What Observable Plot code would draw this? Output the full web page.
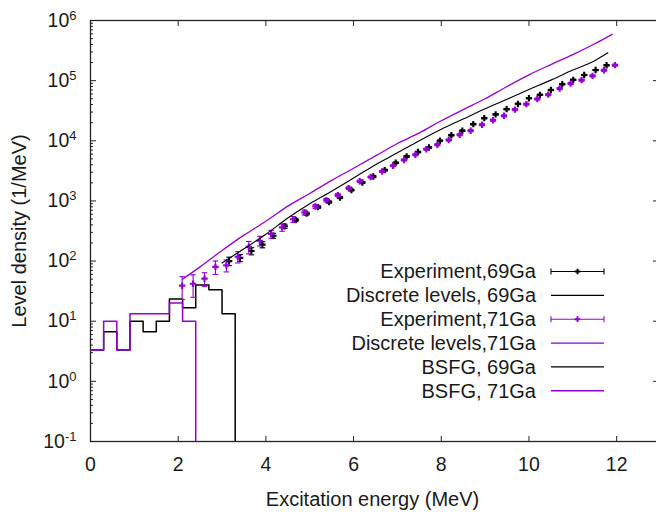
<!DOCTYPE html>
<html>
<head>
<meta charset="utf-8">
<script src="https://cdn.jsdelivr.net/npm/d3@7"></script>
<script src="https://cdn.jsdelivr.net/npm/@observablehq/plot@0.6"></script>
<style>
  html, body { margin: 0; padding: 0; background: white; }
  #chart { width: 656px; height: 514px; overflow: hidden; }
</style>
</head>
<body>
<div id="chart"></div>
<script>
// ---------- data ----------
// Experiment, 69Ga
const E69   = [3.16,3.41,3.67,3.92,4.17,4.43,4.68,4.93,5.19,5.44,5.69,5.95,6.20,6.45,6.71,6.96,7.21,7.47,7.72,7.97,8.23,8.48,8.73,8.98,9.24,9.49,9.75,10.00,10.25,10.50,10.76,11.01,11.26,11.52,11.77];
const rho69 = [100,113,147,188,264,380,482,615,790,960,1143,1520,2030,2540,3250,4300,5500,6500,7740,10000,12400,14700,18900,23800,27500,33600,41000,51000,58000,70000,87500,103000,124000,150000,180000];
const err69 = [16,15,20,22,25,30,30,35,40,45,50,60,80,100,120,150,180,220,250,300,350,420,500,600,700,850,1000,1200,1400,1700,2100,2500,3000,3600,4300];
// Experiment, 71Ga
const E71   = [2.09,2.34,2.60,2.85,3.10,3.36,3.61,3.86,4.12,4.37,4.62,4.88,5.13,5.38,5.64,5.89,6.14,6.39,6.65,6.90,7.15,7.41,7.66,7.91,8.17,8.42,8.67,8.93,9.18,9.43,9.68,9.94,10.19,10.44,10.70,10.95,11.20,11.45,11.71,11.96];
const rho71 = [39,42,51,80,85,118,172,218,282,363,495,645,810,1030,1250,1630,2120,2500,3090,3850,4800,5850,7250,8600,10300,12600,14700,18500,22000,26000,33000,40700,49500,58500,74000,89500,102000,120000,149000,181000];
const err71 = [16,17,13,20,19,25,40,40,42,50,55,60,60,70,70,80,90,100,120,150,190,230,290,340,410,500,590,740,880,1040,1320,1630,1980,2340,2960,3580,4080,4800,5960,7240];
// Discrete levels (histograms, 0.3 MeV bins)
const discEdges69 = [0,0.3,0.6,0.9,1.2,1.5,1.8,2.1,2.4,2.7,3.0,3.3];
const disc69      = [3.33,6.67,3.33,10,6.67,10,23.3,16.7,40,33.3,13.3];
const discEdges71 = [0,0.3,0.6,0.9,1.2,1.5,1.8,2.1,2.4];
const disc71      = [3.33,10,3.33,13.33,13.33,13.33,20,10];
// BSFG curves
const bsfgE69 = [3.0,3.5,4.0,4.5,5.0,5.5,6.0,6.5,7.0,7.5,8.0,8.5,9.0,9.5,10.0,10.5,11.0,11.5,11.8];
const bsfg69  = [93,160,280,520,900,1450,2400,4000,6300,10000,15500,23000,34000,49000,71000,102000,150000,215000,290000];
const bsfgE71 = [2.1,2.5,3.0,3.5,4.0,4.5,5.0,5.5,6.0,6.5,7.0,7.5,8.0,8.5,9.0,9.5,10.0,10.5,11.0,11.5,11.9];
const bsfg71  = [50,80,150,270,460,820,1330,2200,3500,5600,9000,13500,21500,33000,50000,80000,125000,185000,270000,410000,590000];
// axes / legend text
const xTicks = [0,2,4,6,8,10,12];
const yDecades = [0.1,1,10,100,1e3,1e4,1e5,1e6];
const xTitle = "Excitation energy (MeV)";
const yTitle = "Level density (1/MeV)";
const legendLabels = ["Experiment,69Ga","Discrete levels, 69Ga","Experiment,71Ga","Discrete levels,71Ga","BSFG, 69Ga","BSFG, 71Ga"];
const legendKinds  = ["err","line","err","line","line","line"];

// ---------- build ----------
const purple = "#9400d3";
const legendColors = ["#000", "#000", purple, purple, "#000", purple];
const exp69 = E69.map((E, i) => ({E, v: rho69[i], e: err69[i]}));
const exp71 = E71.map((E, i) => ({E, v: rho71[i], e: err71[i]}));
const FLOOR = 1e-3;
function steps(edges, vals) {
  const pts = vals.map((v, i) => ({E: edges[i], v}));
  pts.push({E: edges[edges.length - 1], v: FLOOR});
  return pts;
}
const st69 = steps(discEdges69, disc69);
const st71 = steps(discEdges71, disc71);
const b69 = bsfgE69.map((E, i) => ({E, v: bsfg69[i]}));
const b71 = bsfgE71.map((E, i) => ({E, v: bsfg71[i]}));
const yMinor = yDecades.slice(0, -1).flatMap(d => [2,3,4,5,6,7,8,9].map(k => k * d));
const capSymbol = {draw(ctx, size) { const r = Math.sqrt(size / Math.PI); ctx.moveTo(-r, 0); ctx.lineTo(r, 0); }};

function expMarks(data, color) {
  return [
    Plot.ruleX(data, {x: "E", y1: d => d.v - d.e, y2: d => d.v + d.e, stroke: color, strokeWidth: 1.1}),
    Plot.dot(data, {x: "E", y: d => d.v + d.e, symbol: capSymbol, r: 2.8, stroke: color, strokeWidth: 1.1, fill: "none"}),
    Plot.dot(data, {x: "E", y: d => d.v - d.e, symbol: capSymbol, r: 2.8, stroke: color, strokeWidth: 1.1, fill: "none"}),
    Plot.dot(data, {x: "E", y: "v", symbol: "cross", r: 2.7, fill: color, stroke: "none"})
  ];
}
const blank = () => "";

const chart = Plot.plot({
  width: 656, height: 514,
  marginLeft: 90, marginRight: -4, marginTop: 20, marginBottom: 73,
  x: {domain: [0, 13], label: null},
  y: {type: "log", domain: [0.1, 1e6], label: null},
  style: {fontFamily: "'Liberation Sans', Arial, sans-serif", fontSize: "19.5px", color: "#1a1a1a", background: "white"},
  marks: [
    Plot.frame({stroke: "#222", strokeWidth: 1.3}),
    Plot.axisX(xTicks, {anchor: "bottom", tickSize: 0, tickPadding: 16, label: null}),
    Plot.axisX(xTicks.slice(1), {anchor: "bottom", tickSize: -5, tickFormat: blank, label: null, stroke: "#222"}),
    Plot.axisX(xTicks.slice(1), {anchor: "top", tickSize: -5, tickFormat: blank, label: null, stroke: "#222"}),
    Plot.axisY(yDecades, {anchor: "left", tickSize: 0, tickPadding: 14, tickFormat: d => "10^" + Math.round(Math.log10(d)), label: null}),
    Plot.axisY(yDecades, {anchor: "left", tickSize: -6, tickFormat: blank, label: null, stroke: "#222"}),
    Plot.axisY(yMinor, {anchor: "left", tickSize: -3, tickFormat: blank, label: null, stroke: "#222"}),
    Plot.axisY(yDecades, {anchor: "right", tickSize: -8, tickFormat: blank, label: null, stroke: "#222"}),
    ...expMarks(exp69, "#000"),
    Plot.line(st69, {x: "E", y: "v", curve: "step-after", stroke: "#000", strokeWidth: 1.5, clip: true}),
    ...expMarks(exp71, purple),
    Plot.line(st71, {x: "E", y: "v", curve: "step-after", stroke: purple, strokeWidth: 1.5, clip: true}),
    Plot.line(b69, {x: "E", y: "v", curve: "monotone-x", stroke: "#000", strokeWidth: 1.1}),
    Plot.line(b71, {x: "E", y: "v", curve: "monotone-x", stroke: purple, strokeWidth: 1.3}),
    Plot.text([yTitle], {text: d => d, frameAnchor: "left", dx: -65, rotate: -90, lineAnchor: "bottom", textAnchor: "middle", fontSize: 20, fill: "#1a1a1a"}),
    Plot.text([xTitle], {text: d => d, frameAnchor: "bottom", dx: -3, dy: 64, lineAnchor: "bottom", textAnchor: "middle", fontSize: 20, fill: "#1a1a1a"})
  ]
});
document.getElementById("chart").appendChild(chart);

// superscript exponents on the y tick labels
const svg = d3.select(chart);
svg.selectAll('g[aria-label="y-axis tick label"] text').each(function() {
  const s = this.textContent;
  if (!s.includes("^")) return;
  const [base, exp] = s.split("^");
  const t = d3.select(this);
  t.text(null);
  t.append("tspan").text(base);
  t.append("tspan").attr("dy", "-7").attr("font-size", "13px").text(exp);
});

// legend
const lg = svg.append("g").attr("font-size", 20).attr("fill", "#1a1a1a")
  .attr("font-family", "'Liberation Sans', Arial, sans-serif");
const lx0 = 551, lx1 = 604, textX = 536, base0 = 278.3, rowH = 23.85;
legendLabels.forEach((lab, i) => {
  const yb = base0 + i * rowH, yc = yb - 6.8, c = legendColors[i];
  lg.append("text").attr("x", textX).attr("y", yb).attr("text-anchor", "end").text(lab);
  lg.append("line").attr("x1", lx0).attr("x2", lx1).attr("y1", yc).attr("y2", yc)
    .attr("stroke", c).attr("stroke-width", legendKinds[i] === "err" ? 1.1 : 1.3);
  if (legendKinds[i] === "err") {
    [lx0, lx1].forEach(x => lg.append("line").attr("x1", x).attr("x2", x).attr("y1", yc - 3).attr("y2", yc + 3)
      .attr("stroke", c).attr("stroke-width", 1.1));
    lg.append("path").attr("transform", `translate(${(lx0 + lx1) / 2},${yc})`)
      .attr("d", d3.symbol(d3.symbolCross, 18)()).attr("fill", c);
  }
});
</script>
</body>
</html>
